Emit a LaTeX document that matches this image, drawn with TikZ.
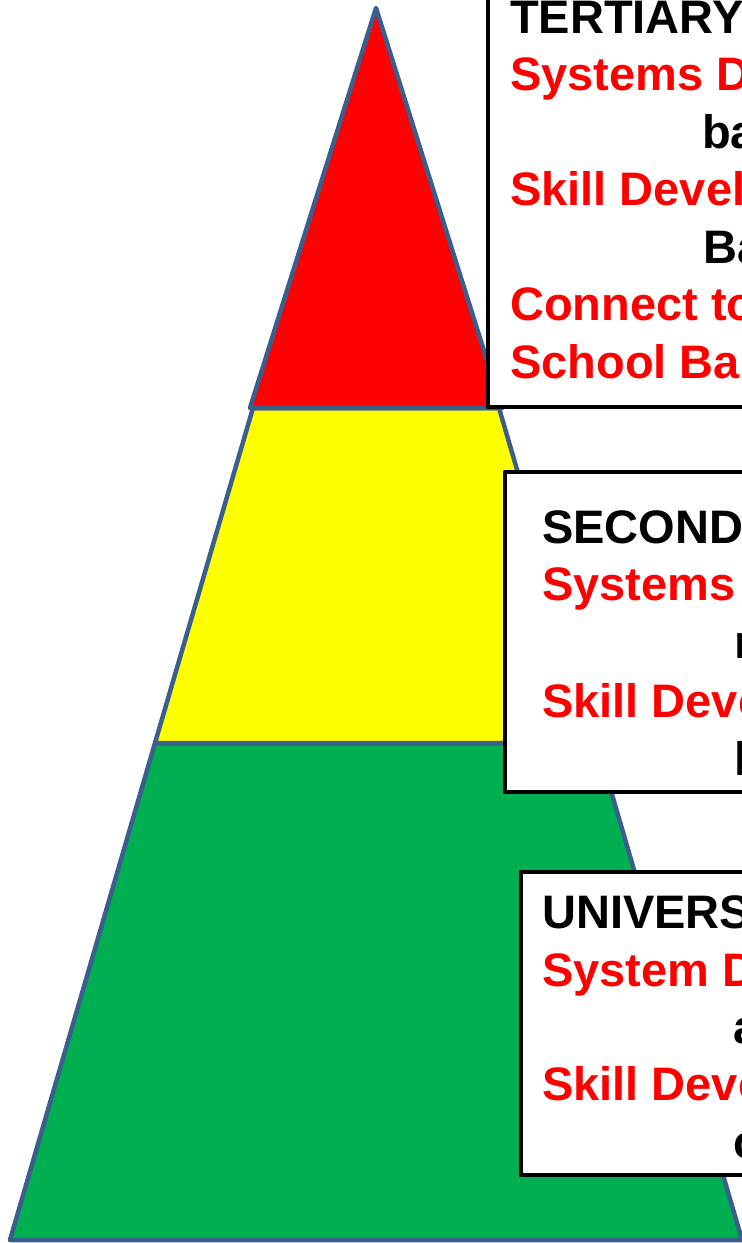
\documentclass[tikz,border=0pt]{standalone}
\usepackage{fontspec}
\setmainfont{Liberation Sans}
\usetikzlibrary{positioning}
\definecolor{edgeblue}{HTML}{3A5F8C}
\definecolor{layergreen}{HTML}{00B050}
\definecolor{layeryellow}{HTML}{FFFF00}

\begin{document}
\begin{tikzpicture}[x=1pt, y=-1pt,
    layer/.style={draw=edgeblue, line width=4.5pt, line join=round},
    infobox/.style={draw=black, fill=white, line width=4.5pt, line join=round},
    blackline/.style={anchor=base west, inner sep=0pt, font=\fontsize{47}{57}\selectfont\bfseries},
    redline/.style={blackline, text=red}]
        \clip (0, 0) rectangle (742, 1243);

        % pyramid
        \draw[layer, fill=layergreen] (155, 743) -- (597, 743) -- (742, 1240) -- (10, 1240) -- cycle;
        \draw[layer, fill=layeryellow] (253, 408) -- (499, 408) -- (597, 743) -- (155, 743) -- cycle;
        \draw[layer, fill=red] (376, 8) -- (502, 408) -- (250, 408) -- cycle;

        % boxes
        \draw[infobox] (488, -20) rectangle (780, 407);
        \draw[infobox] (505, 472) rectangle (780, 792);
        \draw[infobox] (521, 872) rectangle (780, 1175);

        \node[blackline] (tert) at (510, 33) {TERTIARY};
        \node[redline] (tert1) at (510, 90) {Systems D};
        \node[blackline] (tert2) at (702, 148) {ba};
        \node[redline] (tert3) at (510, 205) {Skill Devel};
        \node[blackline] (tert4) at (703, 263) {Ba};
        \node[redline] (tert5) at (510, 320) {Connect to};
        \node[redline] (tert6) at (510, 378) {School Ba};

        \node[blackline] (sec) at (542, 543) {SECOND};
        \node[redline] (sec1) at (542, 600) {Systems};
        \node[blackline] (sec2) at (734, 658) {n};
        \node[redline] (sec3) at (542, 717) {Skill Deve};
        \node[blackline] (sec4) at (734, 775) {l};

        \node[blackline] (univ) at (542, 928) {UNIVERS};
        \node[redline] (univ1) at (542, 986) {System D};
        \node[blackline] (univ2) at (733, 1043) {a};
        \node[redline] (univ3) at (542, 1100) {Skill Deve};
        \node[blackline] (univ4) at (733, 1158) {c};
\end{tikzpicture}
\end{document}
